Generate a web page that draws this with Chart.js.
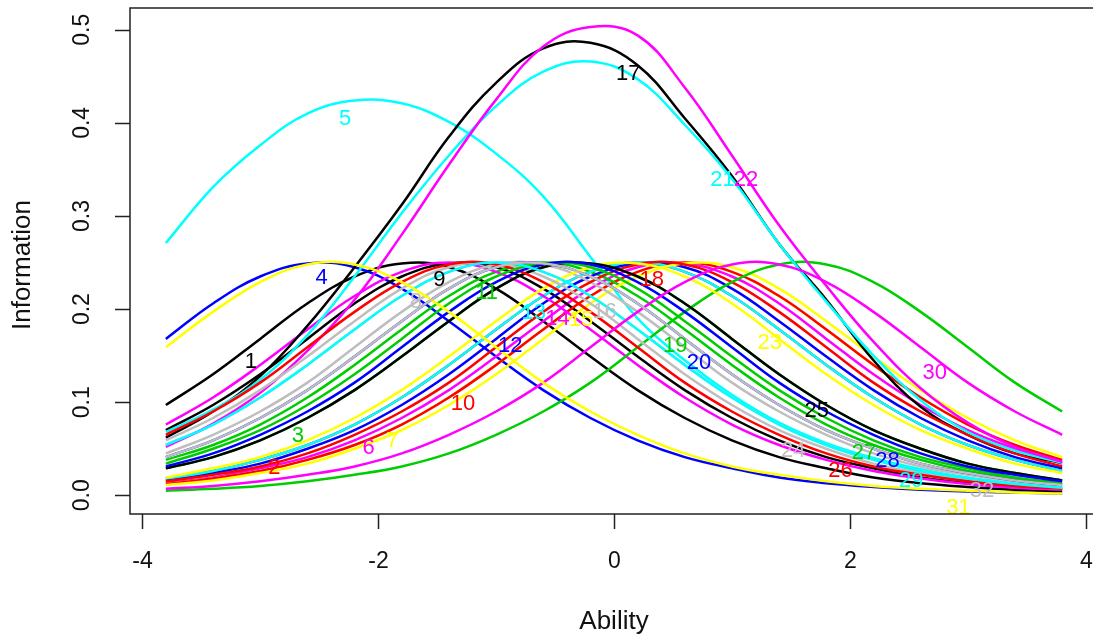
<!DOCTYPE html>
<html>
<head>
<meta charset="utf-8">
<title>Item information curves</title>
<script src="https://cdn.jsdelivr.net/npm/chart.js@4.4.1/dist/chart.umd.min.js"></script>
<style>
    html, body { margin: 0; padding: 0; background: #fff; overflow: hidden; }
    #wrap { width: 1100px; height: 638px; }
</style>
</head>
<body>
<div id="wrap"><canvas id="iic-chart" width="1100" height="638"></canvas></div>
<script>
// ability grid the curves were read at
const ability = [-3.8, -3.4, -3.0, -2.6, -2.2, -1.8, -1.4, -1.0, -0.6, -0.2,
                 0.2, 0.6, 1.0, 1.4, 1.8, 2.2, 2.6, 3.0, 3.4, 3.8];

// item information, one array per item
const info01 = [0.097,0.130,0.168,0.206,0.235,0.249,0.245,0.222,0.187,0.149,0.113,0.083,0.059,0.041,0.029,0.019,0.013,0.009,0.006,0.004];
const info02 = [0.018,0.026,0.038,0.054,0.076,0.105,0.140,0.178,0.214,0.240,0.250,0.240,0.214,0.178,0.140,0.105,0.076,0.054,0.038,0.026];
const info03 = [0.029,0.041,0.059,0.083,0.113,0.149,0.187,0.222,0.245,0.249,0.235,0.206,0.168,0.130,0.097,0.070,0.050,0.034,0.024,0.016];
const info04 = [0.168,0.206,0.235,0.249,0.245,0.222,0.187,0.149,0.113,0.083,0.059,0.041,0.029,0.019,0.013,0.009,0.006,0.004,0.003,0.002];
const info05 = [0.271,0.331,0.376,0.410,0.424,0.421,0.401,0.367,0.321,0.256,0.190,0.145,0.108,0.078,0.056,0.040,0.028,0.019,0.013,0.009];
const info06 = [0.013,0.019,0.029,0.041,0.059,0.083,0.113,0.149,0.187,0.222,0.245,0.249,0.235,0.206,0.168,0.130,0.097,0.070,0.050,0.034];
const info07 = [0.012,0.018,0.026,0.038,0.054,0.076,0.105,0.140,0.178,0.214,0.240,0.250,0.240,0.214,0.178,0.140,0.105,0.076,0.054,0.038];
const info08 = [0.054,0.076,0.105,0.140,0.178,0.214,0.240,0.250,0.240,0.214,0.178,0.140,0.105,0.076,0.054,0.038,0.026,0.018,0.012,0.008];
const info09 = [0.070,0.097,0.130,0.168,0.206,0.235,0.249,0.245,0.222,0.187,0.149,0.113,0.083,0.059,0.041,0.029,0.019,0.013,0.009,0.006];
const info10 = [0.012,0.018,0.026,0.038,0.054,0.076,0.105,0.140,0.178,0.214,0.240,0.250,0.240,0.214,0.178,0.140,0.105,0.076,0.054,0.038];
const info11 = [0.038,0.054,0.076,0.105,0.140,0.178,0.214,0.240,0.250,0.240,0.214,0.178,0.140,0.105,0.076,0.054,0.038,0.026,0.018,0.012];
const info12 = [0.016,0.024,0.034,0.050,0.070,0.097,0.130,0.168,0.206,0.235,0.249,0.245,0.222,0.187,0.149,0.113,0.083,0.059,0.041,0.029];
const info13 = [0.018,0.026,0.038,0.054,0.076,0.105,0.140,0.178,0.214,0.240,0.250,0.240,0.214,0.178,0.140,0.105,0.076,0.054,0.038,0.026];
const info14 = [0.076,0.105,0.140,0.178,0.214,0.240,0.250,0.240,0.214,0.178,0.140,0.105,0.076,0.054,0.038,0.026,0.018,0.012,0.008,0.006];
const info15 = [0.011,0.016,0.024,0.034,0.050,0.070,0.097,0.130,0.168,0.206,0.235,0.249,0.245,0.222,0.187,0.149,0.113,0.083,0.059,0.041];
const info16 = [0.045,0.065,0.090,0.121,0.159,0.197,0.229,0.248,0.248,0.229,0.197,0.159,0.121,0.090,0.065,0.045,0.031,0.022,0.015,0.010];
const info17 = [0.062,0.090,0.128,0.182,0.245,0.312,0.385,0.443,0.480,0.486,0.462,0.405,0.343,0.270,0.210,0.145,0.095,0.065,0.045,0.035];
const info18 = [0.015,0.022,0.031,0.045,0.065,0.090,0.121,0.159,0.197,0.229,0.248,0.248,0.229,0.197,0.159,0.121,0.090,0.065,0.045,0.031];
const info19 = [0.005,0.007,0.010,0.015,0.022,0.031,0.045,0.065,0.090,0.121,0.159,0.197,0.229,0.248,0.248,0.229,0.197,0.159,0.121,0.090];
const info20 = [0.041,0.059,0.083,0.113,0.149,0.187,0.222,0.245,0.249,0.235,0.206,0.168,0.130,0.097,0.070,0.050,0.034,0.024,0.016,0.011];
const info21 = [0.068,0.092,0.124,0.172,0.235,0.303,0.365,0.418,0.455,0.466,0.447,0.398,0.340,0.270,0.208,0.150,0.102,0.068,0.048,0.035];
const info22 = [0.052,0.077,0.110,0.155,0.210,0.280,0.355,0.425,0.482,0.503,0.494,0.438,0.365,0.290,0.225,0.165,0.115,0.078,0.052,0.036];
const info23 = [0.019,0.029,0.041,0.059,0.083,0.113,0.149,0.187,0.222,0.245,0.249,0.235,0.206,0.168,0.130,0.097,0.070,0.050,0.034,0.024];
const info24 = [0.059,0.083,0.113,0.149,0.187,0.222,0.245,0.249,0.235,0.206,0.168,0.130,0.097,0.070,0.050,0.034,0.024,0.016,0.011,0.007];
const info25 = [0.029,0.041,0.059,0.083,0.113,0.149,0.187,0.222,0.245,0.249,0.235,0.206,0.168,0.130,0.097,0.070,0.050,0.034,0.024,0.016];
const info26 = [0.065,0.090,0.121,0.159,0.197,0.229,0.248,0.248,0.229,0.197,0.159,0.121,0.090,0.065,0.045,0.031,0.022,0.015,0.010,0.007];
const info27 = [0.034,0.050,0.070,0.097,0.130,0.168,0.206,0.235,0.249,0.245,0.222,0.187,0.149,0.113,0.083,0.059,0.041,0.029,0.019,0.013];
const info28 = [0.031,0.045,0.065,0.090,0.121,0.159,0.197,0.229,0.248,0.248,0.229,0.197,0.159,0.121,0.090,0.065,0.045,0.031,0.022,0.015];
const info29 = [0.054,0.076,0.105,0.140,0.178,0.214,0.240,0.250,0.240,0.214,0.178,0.140,0.105,0.076,0.054,0.038,0.026,0.018,0.012,0.008];
const info30 = [0.007,0.010,0.015,0.022,0.031,0.045,0.065,0.090,0.121,0.159,0.197,0.229,0.248,0.248,0.229,0.197,0.159,0.121,0.090,0.065];
const info31 = [0.159,0.197,0.229,0.248,0.248,0.229,0.197,0.159,0.121,0.090,0.065,0.045,0.031,0.022,0.015,0.010,0.007,0.005,0.003,0.002];
const info32 = [0.041,0.059,0.083,0.113,0.149,0.187,0.222,0.245,0.249,0.235,0.206,0.168,0.130,0.097,0.070,0.050,0.034,0.024,0.016,0.011];

const itemInfo = [info01, info02, info03, info04, info05, info06, info07, info08,
                  info09, info10, info11, info12, info13, info14, info15, info16,
                  info17, info18, info19, info20, info21, info22, info23, info24,
                  info25, info26, info27, info28, info29, info30, info31, info32];

// where each item number sits on its curve
const labelAbility = [-3.08,-2.88,-2.68,-2.48,-2.28,-2.08,-1.88,-1.68,-1.48,-1.28,-1.08,-0.88,-0.68,-0.48,-0.28,-0.08,
                      0.12,0.32,0.52,0.72,0.92,1.12,1.32,1.52,1.72,1.92,2.12,2.32,2.52,2.72,2.92,3.12];
const labelInfo = [0.159,0.046,0.080,0.250,0.420,0.067,0.075,0.224,0.247,0.114,0.233,0.176,0.212,0.206,0.204,0.213,
                   0.469,0.247,0.177,0.158,0.355,0.355,0.180,0.064,0.107,0.042,0.062,0.053,0.031,0.147,0.003,0.021];

// R's old default palette, recycled over the items
const palette = ['#000000', '#FF0000', '#00CD00', '#0000FF', '#00FFFF', '#FF00FF', '#FFFF00', '#BEBEBE'];

const xTicks = [-4, -2, 0, 2, 4];
const yTicks = [0, 0.1, 0.2, 0.3, 0.4, 0.5];
const yTickLabels = ['0.0', '0.1', '0.2', '0.3', '0.4', '0.5'];

const FONT = '"Liberation Sans", Arial, Helvetica, sans-serif';

// box, ticks, tick labels and titles drawn R-style
const rAxes = {
    id: 'rAxes',
    afterDatasetsDraw(chart) {
        const ctx = chart.ctx;
        const xs = chart.scales.x;
        const ys = chart.scales.y;
        ctx.save();
        ctx.font = '22px ' + FONT;
        ctx.textAlign = 'center';
        ctx.textBaseline = 'middle';
        labelAbility.forEach((t, i) => {
            ctx.fillStyle = palette[i % palette.length];
            ctx.fillText(String(i + 1), xs.getPixelForValue(t), ys.getPixelForValue(labelInfo[i]) + 15);
        });
        ctx.restore();
    },
    afterDraw(chart) {
        const ctx = chart.ctx;
        const a = chart.chartArea;
        const xs = chart.scales.x;
        const ys = chart.scales.y;
        ctx.save();
        ctx.strokeStyle = '#222';
        ctx.lineWidth = 1.5;
        ctx.strokeRect(a.left, a.top, a.right - a.left, a.bottom - a.top);

        ctx.fillStyle = '#111';
        ctx.font = '23px ' + FONT;
        ctx.textAlign = 'center';
        ctx.textBaseline = 'middle';
        ctx.beginPath();
        xTicks.forEach(v => {
            const px = Math.round(xs.getPixelForValue(v)) + 0.5;
            ctx.moveTo(px, a.bottom);
            ctx.lineTo(px, a.bottom + 15);
            ctx.fillText(String(v), px, a.bottom + 48);
        });
        yTicks.forEach(v => {
            const py = Math.round(ys.getPixelForValue(v)) + 0.5;
            ctx.moveTo(a.left, py);
            ctx.lineTo(a.left - 15, py);
        });
        ctx.stroke();

        yTickLabels.forEach((lab, i) => {
            ctx.save();
            ctx.translate(a.left - 47, ys.getPixelForValue(yTicks[i]));
            ctx.rotate(-Math.PI / 2);
            ctx.fillText(lab, 0, 0);
            ctx.restore();
        });

        ctx.font = '26px ' + FONT;
        ctx.fillText('Ability', (a.left + a.right) / 2, 622);
        ctx.save();
        ctx.translate(23, 265);
        ctx.rotate(-Math.PI / 2);
        ctx.fillText('Information', 0, 0);
        ctx.restore();
        ctx.restore();
    }
};

const datasets = itemInfo.map((vals, i) => ({
    label: 'Item ' + (i + 1),
    data: ability.map((t, k) => ({ x: t, y: vals[k] })),
    borderColor: palette[i % palette.length],
    borderWidth: 2.5,
    pointRadius: 0,
    tension: 0.4,
    fill: false,
    order: itemInfo.length - i
}));

new Chart(document.getElementById('iic-chart').getContext('2d'), {
    type: 'line',
    data: { datasets },
    options: {
        responsive: false,
        animation: false,
        layout: { padding: { left: 130, top: 8, right: 2, bottom: 124 } },
        plugins: { legend: { display: false }, tooltip: { enabled: false } },
        scales: {
            x: { type: 'linear', min: -4.104, max: 4.104, display: false },
            y: { type: 'linear', min: -0.0201, max: 0.5234, display: false }
        }
    },
    plugins: [rAxes]
});
</script>
</body>
</html>
